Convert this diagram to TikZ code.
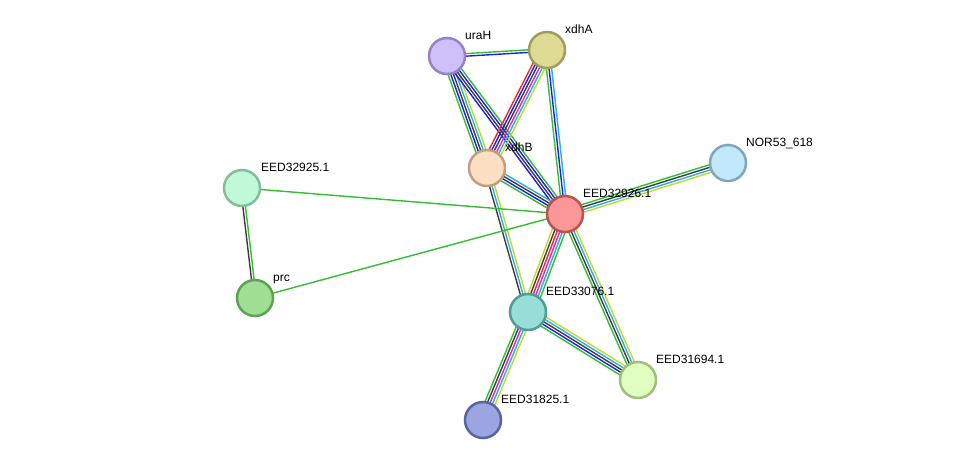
\documentclass[tikz,border=0pt]{standalone}
\usepackage{fontspec}
\setmainfont{Liberation Sans}
\usepackage{tikz}
\usetikzlibrary{calc,backgrounds}
\definecolor{lnkgreen}{RGB}{50,190,50}
\definecolor{lnkblue}{RGB}{30,30,235}
\definecolor{lnkblack}{RGB}{60,60,60}
\definecolor{lnkcyan}{RGB}{40,175,220}
\definecolor{lnkyellow}{RGB}{195,215,45}
\definecolor{lnkmagenta}{RGB}{210,40,210}
\definecolor{lnkred}{RGB}{240,40,40}
\tikzset{
x=1pt, y=-1pt, % pixel-like units, y pointing down
protein/.style={circle, draw, line width=2.5pt, minimum size=36pt, inner sep=0pt}, % every protein bubble
plabel/.style={anchor=base west, inner sep=0pt, font=\fontsize{12}{14}\selectfont}, % protein names
}
% #1 = number of lines, #2 and #3 = nodes, #4 = colours of the parallel lines
\newcommand{\strlink}[4]{%
  \foreach \c [count=\i] in {#4} {
    \pgfmathsetmacro{\off}{(\i-(#1+1)/2)*2.6}
    \draw[\c, line width=1.4pt] ($(#2)!\off pt!90:(#3)$) -- ($(#3)!\off pt!-90:(#2)$);
  }%
}

\begin{document}
\begin{tikzpicture}
		\useasboundingbox (0,0) rectangle (975,466);
		\node[protein, fill={rgb,255:red,208;green,192;blue,250}, draw={rgb,255:red,150;green,130;blue,200}] (uraH) at (447,56) {};
		\node[protein, fill={rgb,255:red,222;green,220;blue,148}, draw={rgb,255:red,160;green,158;blue,92}] (xdhA) at (547,50) {};
		\node[protein, fill={rgb,255:red,253;green,223;blue,195}, draw={rgb,255:red,190;green,160;blue,128}] (xdhB) at (487,168) {};
		\node[protein, fill={rgb,255:red,192;green,250;blue,216}, draw={rgb,255:red,128;green,190;blue,156}] (c925) at (242,188) {};
		\node[protein, fill={rgb,255:red,252;green,151;blue,151}, draw={rgb,255:red,190;green,80;blue,80}] (c926) at (565,214) {};
		\node[protein, fill={rgb,255:red,193;green,232;blue,251}, draw={rgb,255:red,128;green,166;blue,190}] (nor) at (728,163) {};
		\node[protein, fill={rgb,255:red,160;green,224;blue,148}, draw={rgb,255:red,96;green,160;blue,88}] (prc) at (255,298) {};
		\node[protein, fill={rgb,255:red,152;green,222;blue,216}, draw={rgb,255:red,80;green,156;blue,150}] (c076) at (528,312) {};
		\node[protein, fill={rgb,255:red,224;green,255;blue,192}, draw={rgb,255:red,160;green,190;blue,128}] (c694) at (638,380) {};
		\node[protein, fill={rgb,255:red,156;green,165;blue,224}, draw={rgb,255:red,90;green,100;blue,160}] (c825) at (483,420) {};

		\node[plabel] (uraH-l) at ($(uraH)+(18,-17)$) {uraH};
		\node[plabel] (xdhA-l) at ($(xdhA)+(18,-17)$) {xdhA};
		\node[plabel] (xdhB-l) at ($(xdhB)+(18,-17)$) {xdhB};
		\node[plabel] (c925-l) at ($(c925)+(19,-17)$) {EED32925.1};
		\node[plabel] (c926-l) at ($(c926)+(18,-17)$) {EED32926.1};
		\node[plabel] (nor-l) at ($(nor)+(18,-17)$) {NOR53\_618};
		\node[plabel] (prc-l) at ($(prc)+(18,-17)$) {prc};
		\node[plabel] (c076-l) at ($(c076)+(18,-17)$) {EED33076.1};
		\node[plabel] (c694-l) at ($(c694)+(18,-17)$) {EED31694.1};
		\node[plabel] (c825-l) at ($(c825)+(18,-17)$) {EED31825.1};

		\begin{pgfonlayer}{background}
			\strlink{2}{uraH}{xdhA}{lnkblue,lnkgreen}
			\strlink{5}{uraH}{xdhB}{lnkgreen,lnkblue,lnkblack,lnkcyan,lnkyellow}
			\strlink{4}{uraH}{c926}{lnkblue,lnkblack,lnkblue,lnkgreen}
			\strlink{6}{xdhA}{xdhB}{lnkred,lnkblue,lnkblack,lnkmagenta,lnkcyan,lnkyellow}
			\strlink{3}{xdhA}{c926}{lnkgreen,lnkblue,lnkcyan}
			\strlink{4}{xdhB}{c926}{lnkgreen,lnkblue,lnkblack,lnkcyan}
			\strlink{3}{xdhB}{c076}{lnkblack,lnkcyan,lnkyellow}
			\strlink{1}{c925}{c926}{lnkgreen}
			\strlink{1}{prc}{c926}{lnkgreen}
			\strlink{2}{c925}{prc}{lnkblack,lnkgreen}
			\strlink{4}{c926}{nor}{lnkyellow,lnkcyan,lnkblack,lnkgreen}
			\strlink{6}{c926}{c076}{lnkyellow,lnkblack,lnkred,lnkmagenta,lnkcyan,lnkgreen}
			\strlink{4}{c926}{c694}{lnkgreen,lnkblack,lnkcyan,lnkyellow}
			\strlink{5}{c076}{c694}{lnkgreen,lnkblue,lnkblack,lnkcyan,lnkyellow}
			\strlink{5}{c076}{c825}{lnkgreen,lnkblack,lnkmagenta,lnkcyan,lnkyellow}
		\end{pgfonlayer}
	\end{tikzpicture}
\end{document}
